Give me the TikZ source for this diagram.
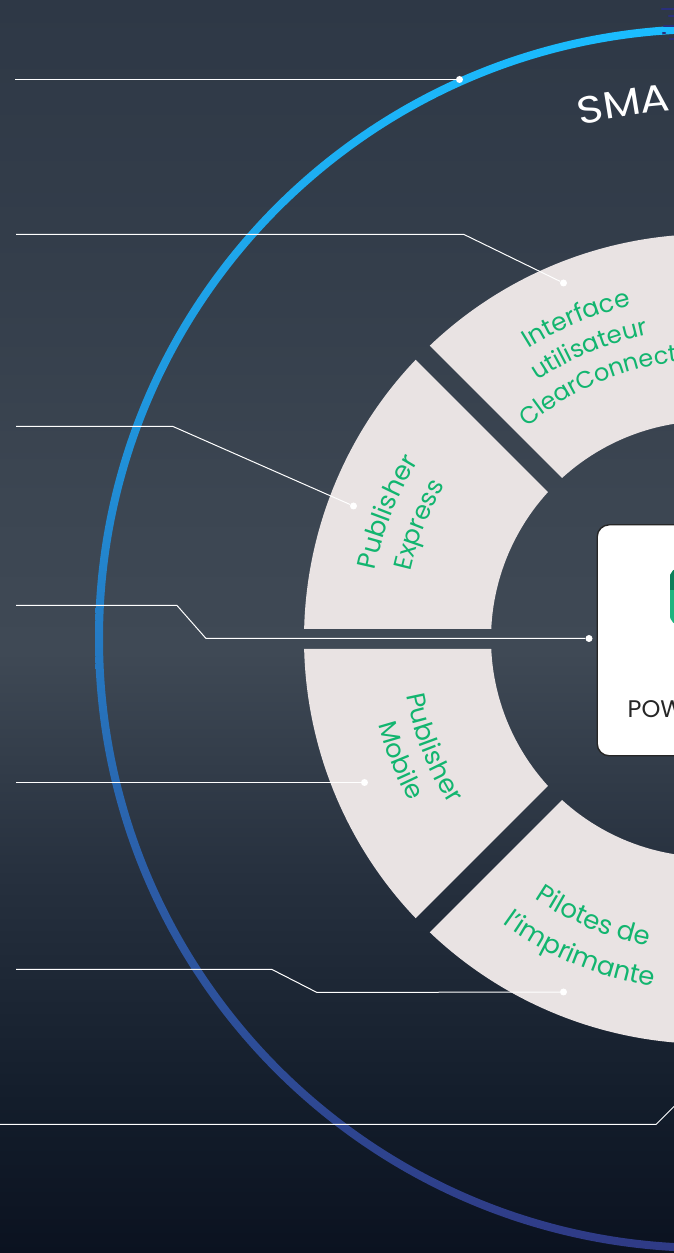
\documentclass[tikz,border=0pt]{standalone}
\usepackage{fontspec}
\setmainfont{Poppins}
\usetikzlibrary{decorations.text,calc}
\definecolor{seg}{HTML}{E9E3E3}
\definecolor{grn}{HTML}{12B56F}
\definecolor{dashc}{HTML}{2A2F7C}
\definecolor{c0}{HTML}{0B1220}
\definecolor{c1}{HTML}{131D2B}
\definecolor{c2}{HTML}{26303E}
\definecolor{c3}{HTML}{3F4955}
\definecolor{c4}{HTML}{3C4652}
\definecolor{c5}{HTML}{343E4B}
\definecolor{c6}{HTML}{2E3846}
\definecolor{r0}{HTML}{2F3A85}
\definecolor{r1}{HTML}{2C5CA6}
\definecolor{r2}{HTML}{2090D8}
\definecolor{r3}{HTML}{1BBDFF}
\definecolor{g0}{HTML}{0C7F5A}
\definecolor{g1}{HTML}{1DB57F}
\pgfdeclareverticalshading{bgsh}{100bp}{
 color(0bp)=(c0); color(25bp)=(c0); color(31bp)=(c1); color(40bp)=(c2);
 color(49bp)=(c3); color(55bp)=(c4); color(64bp)=(c5); color(75bp)=(c6); color(100bp)=(c6)}
\pgfdeclareverticalshading{ringsh}{100bp}{
 color(0bp)=(r0); color(25bp)=(r0); color(40bp)=(r1); color(57bp)=(r2); color(75bp)=(r3); color(100bp)=(r3)}
\tikzset{
 wire/.style={draw=white,line width=1pt},
 tip/.style={circle,fill=white,inner sep=0pt,minimum size=7pt},
 segm/.style={fill=seg},
 dashm/.style={draw=dashc,line width=2.4pt,line cap=round},
 titleletter/.style={transform shape,rotate=#1,xscale=1.15,anchor=base,inner sep=0pt,text=white},
}
\newcommand{\arctext}[5]{% radius, from, to, size, text
 \path[postaction={decorate,decoration={text along path,text align=center,
   text={|\fontsize{#4}{#4}\selectfont\color{grn}|#5}}}]
   ($(o)+(#2:#1)$) arc[start angle=#2,end angle=#3,radius=#1];}
\begin{document}
\begin{tikzpicture}[x=1pt,y=1pt]
\useasboundingbox (0,0) rectangle (674,1253);
\clip (0,0) rectangle (674,1253);
\shade[shading=bgsh] (0,0) rectangle (674,1253);
\coordinate (o) at (709,614);
\coordinate (oring) at (708.5,614.5);
% ring
\path[shading=ringsh,even odd rule] (oring) circle[radius=613.5] (oring) circle[radius=605.5];
% dashes
\coordinate (d1) at (662,1244); \coordinate (d1e) at (680,1244);
\coordinate (d2) at (669,1237); \coordinate (d2e) at (680,1237);
\coordinate (d3) at (664,1227); \coordinate (d3e) at (680,1227);
\coordinate (d4) at (663,1220); \coordinate (d4e) at (665,1220);
\coordinate (d5) at (670,1214); \coordinate (d5e) at (680,1214);
\foreach \a in {1,...,5}{\draw[dashm] (d\a) -- (d\a e);}
% segments
\foreach \a/\b in {135/180,180/225,225/290,70/135}{
 \pgfmathsetmacro{\oa}{\a+1.415}\pgfmathsetmacro{\ob}{\b-1.415}
 \pgfmathsetmacro{\ia}{\a+2.63}\pgfmathsetmacro{\ib}{\b-2.63}
 \fill[segm] ($(o)+(\oa:405)$) arc[start angle=\oa,end angle=\ob,radius=405]
   -- ($(o)+(\ib:218)$) arc[start angle=\ib,end angle=\ia,radius=218] -- cycle;
}
% curved labels
\arctext{342}{140}{85}{25}{Interface}
\arctext{310}{140}{85}{24.5}{utilisateur}
\arctext{279}{141}{86}{24}{ClearConnect}
\arctext{341}{191}{126}{26}{Publisher}
\arctext{306}{191}{126}{25.2}{Express}
\arctext{308}{169}{234}{26}{Publisher}
\arctext{341}{169}{234}{25.5}{Mobile}
\arctext{313}{215}{280}{26}{Pilotes de}
\arctext{352}{215}{280}{26}{l'imprimante}
% title
\foreach \l/\ang in {S/102.6,M/99.2,A/95.7,R/92.0}{
 \pgfmathsetmacro{\rot}{\ang-90}
 \node[titleletter=\rot] (title\l) at ($(oring)+(\ang:529)$) {\fontsize{38}{38}\selectfont\l};
}
% centre card
\node[draw=black!85,line width=1.4pt,fill=white,rounded corners=12pt,minimum width=200pt,minimum height=231pt,anchor=south west,inner sep=0pt] (card) at (596.5,496.5) {};
\begin{scope}
 \clip[rounded corners=12pt] (669.5,627) rectangle (710,686);
 \fill[g1] (669.5,627) rectangle (710,686);
 \fill[g0] (669.5,663) rectangle (710,686);
\end{scope}
\node[anchor=base west,inner sep=0pt,text=black!85] (pow) at (627.5,535.5) {\fontsize{24}{24}\selectfont POW};
% wires
\node[tip] (t1) at (459.5,1173.5) {};
\node[tip] (t2) at (563.5,970) {};
\node[tip] (t3) at (353.5,747) {};
\node[tip] (t4) at (589,614.5) {};
\node[tip] (t5) at (364.5,470.5) {};
\node[tip] (t6) at (563.5,261) {};
\coordinate (s1) at (15,1173.5);
\coordinate (s2) at (16,1018.5); \coordinate (k2) at (464,1018.5);
\coordinate (s3) at (16,826.5); \coordinate (k3) at (173,826.5);
\coordinate (s4) at (16,647.5); \coordinate (k4a) at (177,647.5); \coordinate (k4b) at (206,614.5);
\coordinate (s5) at (16,470.5);
\coordinate (s6) at (16,283.5); \coordinate (k6a) at (272,283.5); \coordinate (k6b) at (317,260.5);
\coordinate (s7) at (0,128.5); \coordinate (k7) at (656,128.5); \coordinate (e7) at (676,148.5);
\draw[wire] (s1) -- (t1);
\draw[wire] (s2) -- (k2) -- (t2);
\draw[wire] (s3) -- (k3) -- (t3);
\draw[wire] (s4) -- (k4a) -- (k4b) -- (t4);
\draw[wire] (s5) -- (t5);
\draw[wire] (s6) -- (k6a) -- (k6b) -- (t6);
\draw[wire] (s7) -- (k7) -- (e7);
\end{tikzpicture}
\end{document}
